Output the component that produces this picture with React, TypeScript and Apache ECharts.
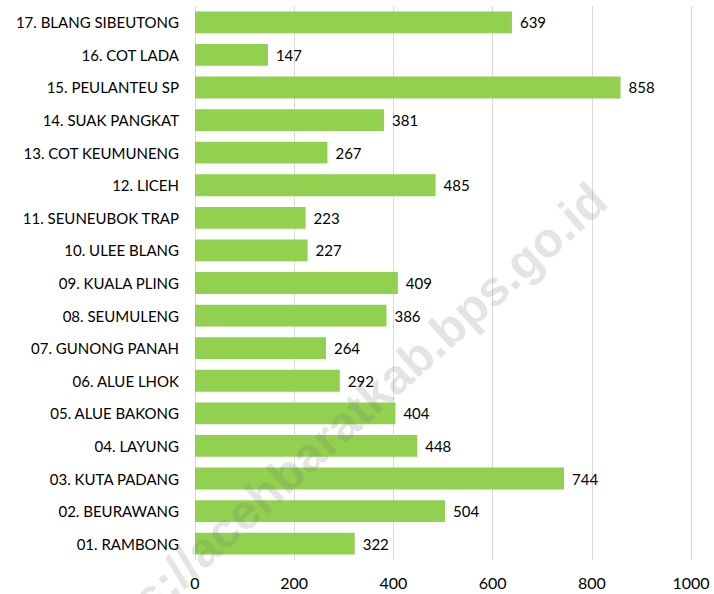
import React, { useEffect, useRef } from "react";
import * as echarts from "echarts";

const categories = [
  "01. RAMBONG",
  "02. BEURAWANG",
  "03. KUTA PADANG",
  "04. LAYUNG",
  "05. ALUE BAKONG",
  "06. ALUE LHOK",
  "07. GUNONG PANAH",
  "08. SEUMULENG",
  "09. KUALA PLING",
  "10. ULEE BLANG",
  "11. SEUNEUBOK TRAP",
  "12. LICEH",
  "13. COT KEUMUNENG",
  "14. SUAK PANGKAT",
  "15. PEULANTEU SP",
  "16. COT LADA",
  "17. BLANG SIBEUTONG",
];
const values = [322, 504, 744, 448, 404, 292, 264, 386, 409, 227, 223, 485, 267, 381, 858, 147, 639];
const watermark = "https://acehbaratkab.bps.go.id";

export default function App() {
  const ref = useRef<HTMLDivElement>(null);
  useEffect(() => {
    const chart = echarts.init(ref.current!, null, { renderer: "svg" });
    const font = "Lato, 'Open Sans', sans-serif";
    chart.setOption({
      animation: false,
      grid: { left: 195, right: 23, top: 6, bottom: 34, containLabel: false },
      xAxis: {
        type: "value",
        min: 0,
        max: 1000,
        interval: 200,
        axisLine: { show: false },
        axisTick: { show: false },
        splitLine: { show: true, lineStyle: { color: "#d9d9d9", width: 1 } },
        axisLabel: {
          color: "#000",
          fontSize: 16,
          fontFamily: font,
          margin: 14,
          formatter: (v: number) => String(v),
        },
      },
      yAxis: {
        type: "category",
        data: categories,
        axisLine: { show: false },
        axisTick: { show: false },
        axisLabel: { color: "#000", fontSize: 15, fontFamily: font, margin: 16 },
      },
      series: [
        {
          type: "bar",
          data: values,
          barWidth: "67%",
          itemStyle: { color: "#92D050" },
          label: {
            show: true,
            position: "right",
            distance: 8,
            color: "#000",
            fontSize: 15,
            fontFamily: font,
          },
        },
      ],
      graphic: [
        {
          type: "text",
          x: 335,
          y: 430,
          rotation: (42 * Math.PI) / 180,
          z: 100,
          silent: true,
          style: {
            text: watermark,
            fontSize: 49,
            fontWeight: "bold",
            fontFamily: "'Liberation Sans', Arial, sans-serif",
            fill: "rgba(120,120,120,0.2)",
            align: "center",
            verticalAlign: "middle",
          },
        },
      ],
    });
    return () => chart.dispose();
  }, []);
  return <div ref={ref} style={{ width: 714, height: 594, position: "absolute", left: 0, top: 0 }} />;
}
